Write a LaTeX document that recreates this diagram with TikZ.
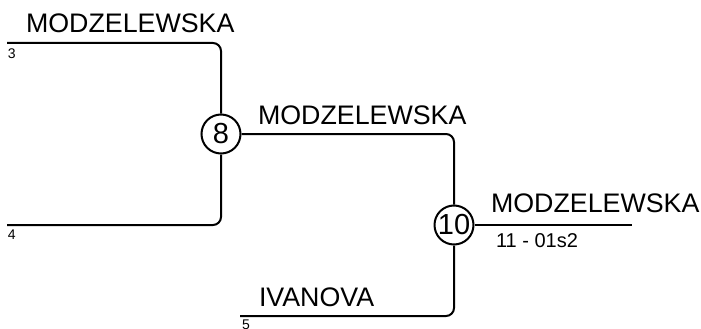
\documentclass[tikz,border=0pt]{standalone}
\usepackage{fontspec}
\setmainfont{Liberation Sans}
\usetikzlibrary{positioning}
\begin{document}
\begin{tikzpicture}[x=1pt,y=-1pt,line width=2pt,
  game/.style={circle,draw,inner sep=0pt,minimum size=39pt,font=\fontsize{29}{30}\selectfont},
  player/.style={anchor=base west,inner sep=0pt,font=\fontsize{26.8}{28}\selectfont},
  seed/.style={anchor=north west,inner sep=0pt,font=\fontsize{14}{15}\selectfont},
  score/.style={anchor=north west,inner sep=0pt,font=\fontsize{20}{22}\selectfont},
  bracket/.style={rounded corners=8pt}]
  \useasboundingbox (0,0) rectangle (701,329);
  \node[game] (g8) at (221,134) {8};
  \node[game] (g10) at (454,225) {10};
  \coordinate (p3) at (7,43);
  \coordinate (p4) at (7,225);
  \coordinate (p5) at (240,316);
  \coordinate (win) at (632,225);
  % brackets
  \draw[bracket] (p3) -| (g8.north);
  \draw[bracket] (p4) -| (g8.south);
  \draw[bracket] (g8.east) -| (g10.north);
  \draw[bracket] (p5) -| (g10.south);
  \draw (g10.east) -- (win);
  % names
  \node[player] (n3) at (25,33) {MODZELEWSKA};
  \node[player] (n8) at (257,124) {MODZELEWSKA};
  \node[player] (n10) at (490,212) {MODZELEWSKA};
  \node[player] (n5) at (258,306) {IVANOVA};
  \node[seed] (s3) at (7,48) {3};
  \node[seed] (s4) at (7,229) {4};
  \node[seed] (s5) at (241,319) {5};
  \node[score] (r10) at (495,233) {11 - 01s2};
\end{tikzpicture}
\end{document}
